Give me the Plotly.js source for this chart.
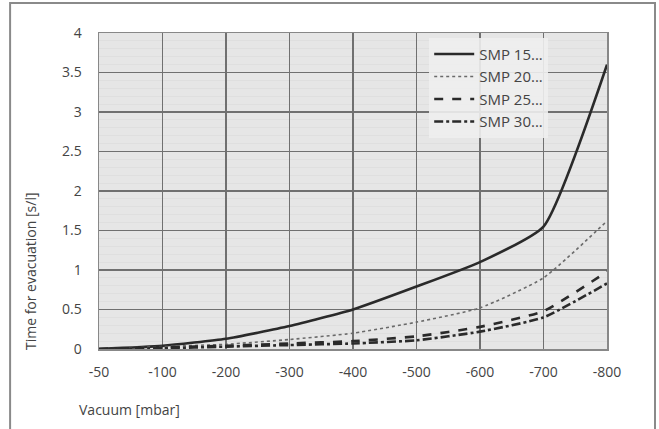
<!DOCTYPE html>
<html>
<head>
<meta charset="utf-8">
<script src="https://cdn.plot.ly/plotly-3.0.1.min.js"></script>
<style>html,body{margin:0;padding:0;background:#fff}#chart{width:659px;height:429px}</style>
</head>
<body>
<div id="chart"></div>
<script>
const vacuum = ['-50','-100','-200','-300','-400','-500','-600','-700','-800'];
const smp15 = [0, 0.04, 0.13, 0.29, 0.5, 0.79, 1.1, 1.55, 3.6];
const smp20 = [0, 0.03, 0.06, 0.12, 0.2, 0.34, 0.52, 0.9, 1.62];
const smp25 = [0, 0.02, 0.04, 0.07, 0.1, 0.16, 0.28, 0.48, 0.98];
const smp30 = [0, 0.01, 0.03, 0.05, 0.07, 0.11, 0.22, 0.4, 0.83];
const seriesNames = ['SMP 15...', 'SMP 20...', 'SMP 25...', 'SMP 30...'];
const yTicks = [0, 0.5, 1, 1.5, 2, 2.5, 3, 3.5, 4];

const font = 'Open Sans, Noto Sans, sans-serif';
const mk = (y, name, color, width, dash) => ({
  x: vacuum, y: y, name: name, type: 'scatter', mode: 'lines',
  line: {color: color, width: width, dash: dash, shape: 'spline', smoothing: 0.5}
});
const data = [
  mk(smp15, seriesNames[0], '#2a2a2a', 2.6, 'solid'),
  mk(smp20, seriesNames[1], '#6a6a6a', 1.6, 'dot'),
  mk(smp25, seriesNames[2], '#2a2a2a', 2.6, 'dash'),
  mk(smp30, seriesNames[3], '#2a2a2a', 2.6, 'dashdot')
];
const layout = {
  width: 659, height: 429,
  margin: {l: 99, r: 52, t: 33, b: 80},
  paper_bgcolor: '#ffffff', plot_bgcolor: '#e6e6e6',
  font: {family: font, size: 14, color: '#444'},
  showlegend: true,
  legend: {x: 0.65, y: 0.985, xanchor: 'left', yanchor: 'top', bgcolor: 'rgba(238,238,238,0.9)',
           font: {family: font, size: 15, color: '#444'}, tracegroupgap: 0, itemwidth: 40},
  xaxis: {type: 'category', range: [0, 8], showgrid: true, gridcolor: '#707070', gridwidth: 1.6,
          showline: true, mirror: true, linecolor: '#888', linewidth: 1.5,
          ticks: '', ticklabelstandoff: 10, tickfont: {size: 14, color: '#444'}, zeroline: false, fixedrange: true},
  yaxis: {range: [0, 4], tickvals: yTicks, showgrid: true, gridcolor: '#707070', gridwidth: 1.6,
          showline: true, mirror: true, linecolor: '#888', linewidth: 1.5, ticks: '', ticklabelstandoff: 13,
          zeroline: false, tickfont: {size: 14, color: '#444'},
          minor: {dtick: 0.1, showgrid: true, gridcolor: '#dfdfdf', gridwidth: 1}},
  annotations: [
    {text: 'Vacuum [mbar]', xref: 'paper', yref: 'paper', x: -0.043, y: -0.155, xanchor: 'left', yanchor: 'top',
     showarrow: false, font: {family: font, size: 14, color: '#444'}},
    {text: 'Time for evacuation [s/l]', xref: 'paper', yref: 'paper', x: -0.136, y: -0.01, xanchor: 'center', yanchor: 'bottom',
     textangle: -90, showarrow: false, font: {family: font, size: 14, color: '#444'}}
  ],
  shapes: [
    {type: 'rect', xref: 'paper', yref: 'paper', x0: -0.175, x1: 1.0945, y0: -0.27, y1: 1.095,
     line: {color: '#8a8a8a', width: 2}, fillcolor: 'rgba(0,0,0,0)', layer: 'below'}
  ]
};
Plotly.newPlot('chart', data, layout, {displayModeBar: false, staticPlot: true});
</script>
</body>
</html>
